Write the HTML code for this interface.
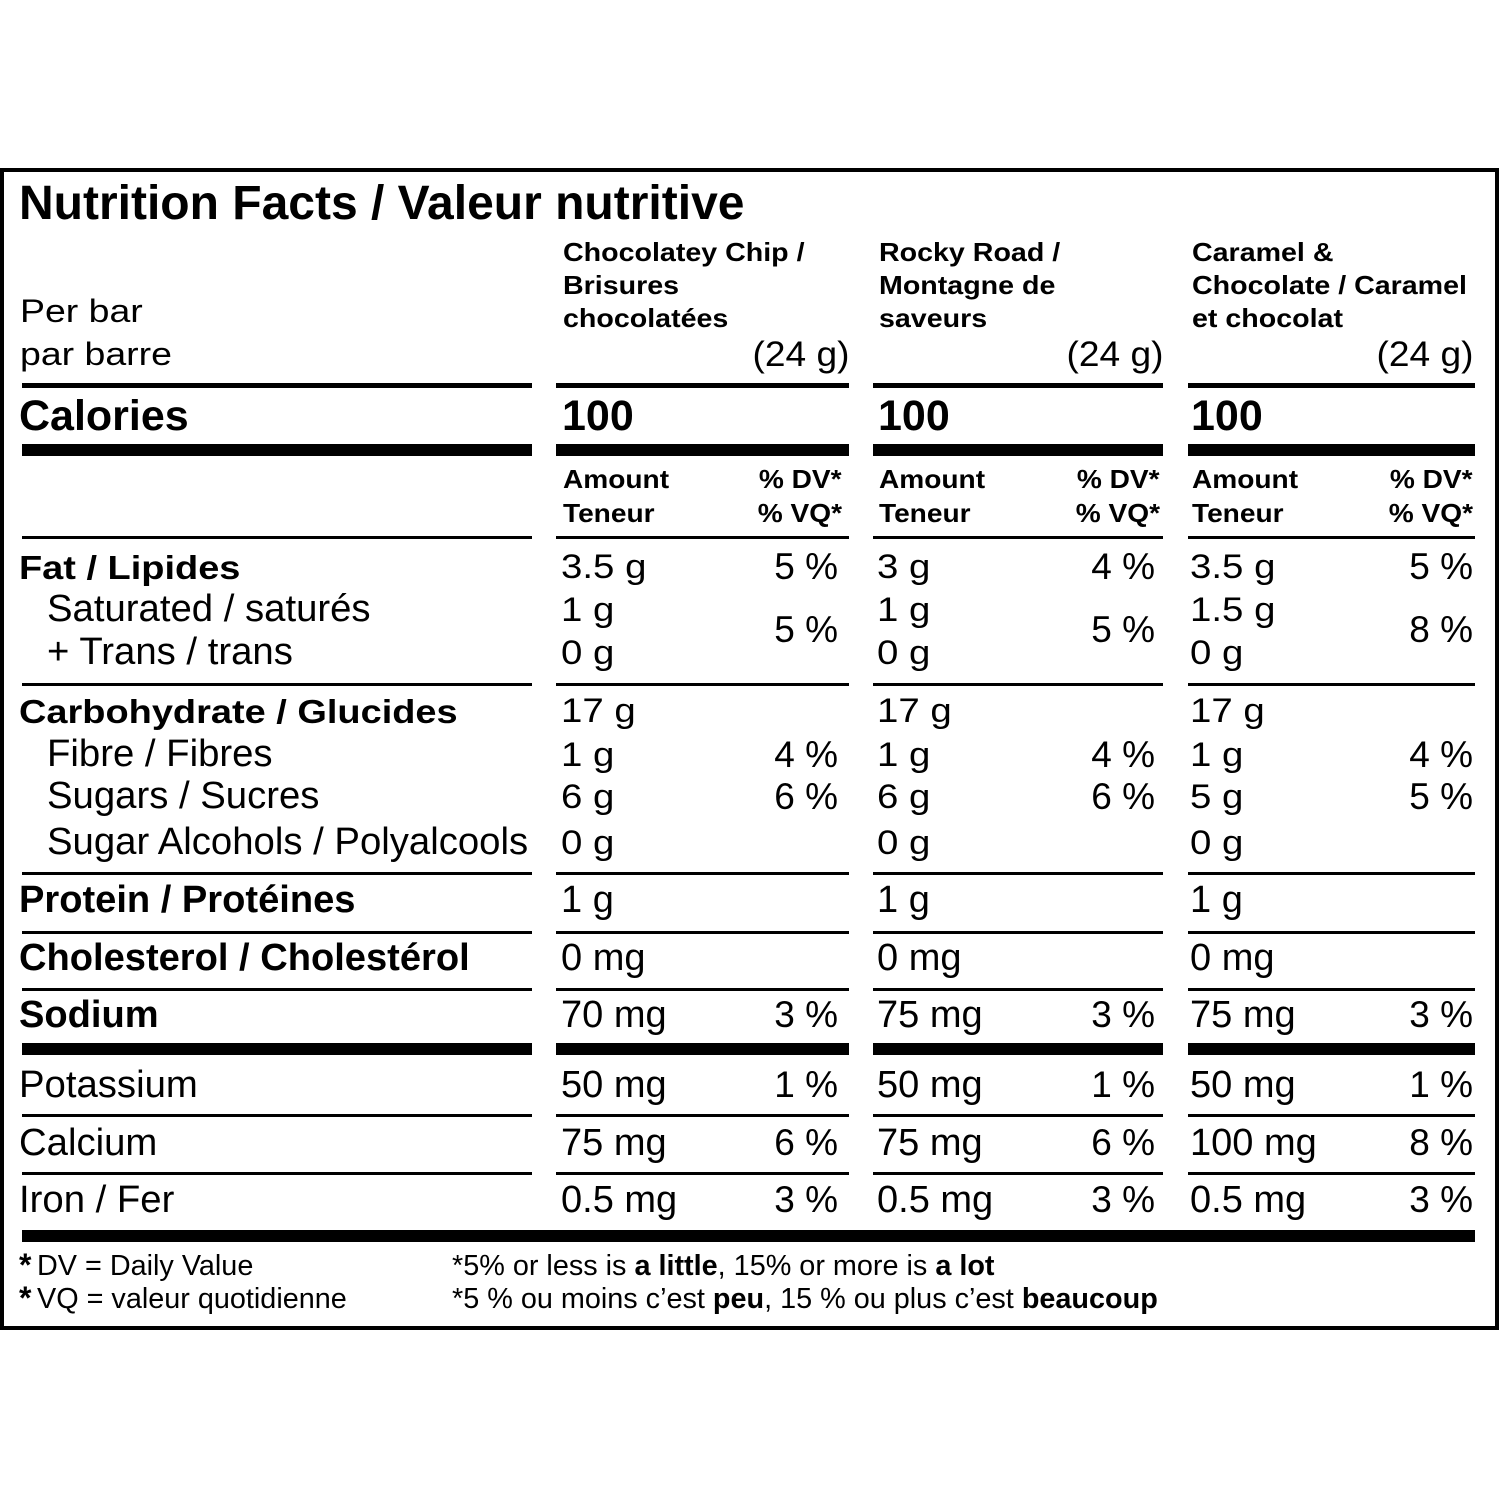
<!DOCTYPE html>
<html><head><meta charset="utf-8">
<style>
html,body{margin:0;padding:0;background:#fff;}
body{width:1500px;height:1500px;position:relative;overflow:hidden;font-family:"Liberation Sans",Arial,sans-serif;color:#000;}
.t{position:absolute;white-space:nowrap;line-height:1;}
.b{font-weight:bold;}
.l{position:absolute;background:#000;}
.sl{transform-origin:0 0;}
.sr{transform-origin:100% 0;}
</style></head>
<body>
<!-- outer border -->
<div style="position:absolute;left:0;top:168px;width:1491px;height:1154px;border:4px solid #000;"></div>

<!-- title -->
<div class="t b" style="left:19px;top:180px;font-size:48px;">Nutrition Facts / Valeur nutritive</div>

<!-- per bar -->
<div class="t sl" style="left:20px;top:295px;font-size:32px;transform:scaleX(1.17);">Per bar</div>
<div class="t sl" style="left:20px;top:338px;font-size:32px;transform:scaleX(1.17);">par barre</div>

<!-- column headers -->
<div class="t b sl" style="left:563px;top:239px;font-size:26px;transform:scaleX(1.1);">Chocolatey Chip /</div>
<div class="t b sl" style="left:563px;top:272px;font-size:26px;transform:scaleX(1.1);">Brisures</div>
<div class="t b sl" style="left:563px;top:305px;font-size:26px;transform:scaleX(1.1);">chocolatées</div>

<div class="t b sl" style="left:879px;top:239px;font-size:26px;transform:scaleX(1.1);">Rocky Road /</div>
<div class="t b sl" style="left:879px;top:272px;font-size:26px;transform:scaleX(1.1);">Montagne de</div>
<div class="t b sl" style="left:879px;top:305px;font-size:26px;transform:scaleX(1.1);">saveurs</div>

<div class="t b sl" style="left:1192px;top:239px;font-size:26px;transform:scaleX(1.1);">Caramel &amp;</div>
<div class="t b sl" style="left:1192px;top:272px;font-size:26px;transform:scaleX(1.1);">Chocolate / Caramel</div>
<div class="t b sl" style="left:1192px;top:305px;font-size:26px;transform:scaleX(1.1);">et chocolat</div>

<div class="t sr" style="right:651px;top:337px;font-size:35px;transform:scaleX(1.06);">(24 g)</div>
<div class="t sr" style="right:337px;top:337px;font-size:35px;transform:scaleX(1.06);">(24 g)</div>
<div class="t sr" style="right:27px;top:337px;font-size:35px;transform:scaleX(1.06);">(24 g)</div>

<!-- lines -->
<div class="l" style="left:22px;top:383px;width:510px;height:5px;"></div>
<div class="l" style="left:556px;top:383px;width:293px;height:5px;"></div>
<div class="l" style="left:873px;top:383px;width:290px;height:5px;"></div>
<div class="l" style="left:1188px;top:383px;width:287px;height:5px;"></div>

<div class="l" style="left:22px;top:444px;width:510px;height:12px;"></div>
<div class="l" style="left:556px;top:444px;width:293px;height:12px;"></div>
<div class="l" style="left:873px;top:444px;width:290px;height:12px;"></div>
<div class="l" style="left:1188px;top:444px;width:287px;height:12px;"></div>

<div class="l" style="left:22px;top:536px;width:510px;height:2.5px;"></div>
<div class="l" style="left:556px;top:536px;width:293px;height:2.5px;"></div>
<div class="l" style="left:873px;top:536px;width:290px;height:2.5px;"></div>
<div class="l" style="left:1188px;top:536px;width:287px;height:2.5px;"></div>

<div class="l" style="left:22px;top:683px;width:510px;height:2.5px;"></div>
<div class="l" style="left:556px;top:683px;width:293px;height:2.5px;"></div>
<div class="l" style="left:873px;top:683px;width:290px;height:2.5px;"></div>
<div class="l" style="left:1188px;top:683px;width:287px;height:2.5px;"></div>

<div class="l" style="left:22px;top:872px;width:510px;height:2.5px;"></div>
<div class="l" style="left:556px;top:872px;width:293px;height:2.5px;"></div>
<div class="l" style="left:873px;top:872px;width:290px;height:2.5px;"></div>
<div class="l" style="left:1188px;top:872px;width:287px;height:2.5px;"></div>

<div class="l" style="left:22px;top:931px;width:510px;height:2.5px;"></div>
<div class="l" style="left:556px;top:931px;width:293px;height:2.5px;"></div>
<div class="l" style="left:873px;top:931px;width:290px;height:2.5px;"></div>
<div class="l" style="left:1188px;top:931px;width:287px;height:2.5px;"></div>

<div class="l" style="left:22px;top:988px;width:510px;height:2.5px;"></div>
<div class="l" style="left:556px;top:988px;width:293px;height:2.5px;"></div>
<div class="l" style="left:873px;top:988px;width:290px;height:2.5px;"></div>
<div class="l" style="left:1188px;top:988px;width:287px;height:2.5px;"></div>

<div class="l" style="left:22px;top:1043px;width:510px;height:12px;"></div>
<div class="l" style="left:556px;top:1043px;width:293px;height:12px;"></div>
<div class="l" style="left:873px;top:1043px;width:290px;height:12px;"></div>
<div class="l" style="left:1188px;top:1043px;width:287px;height:12px;"></div>

<div class="l" style="left:22px;top:1114px;width:510px;height:2.5px;"></div>
<div class="l" style="left:556px;top:1114px;width:293px;height:2.5px;"></div>
<div class="l" style="left:873px;top:1114px;width:290px;height:2.5px;"></div>
<div class="l" style="left:1188px;top:1114px;width:287px;height:2.5px;"></div>

<div class="l" style="left:22px;top:1172px;width:510px;height:2.5px;"></div>
<div class="l" style="left:556px;top:1172px;width:293px;height:2.5px;"></div>
<div class="l" style="left:873px;top:1172px;width:290px;height:2.5px;"></div>
<div class="l" style="left:1188px;top:1172px;width:287px;height:2.5px;"></div>

<div class="l" style="left:22px;top:1230px;width:1453px;height:12px;"></div>

<!-- calories -->
<div class="t b" style="left:19px;top:395px;font-size:43px;">Calories</div>
<div class="t b" style="left:562px;top:395px;font-size:43px;">100</div>
<div class="t b" style="left:878px;top:395px;font-size:43px;">100</div>
<div class="t b" style="left:1191px;top:395px;font-size:43px;">100</div>

<!-- amount headers -->
<div class="t b sl" style="left:563px;top:466px;font-size:26px;transform:scaleX(1.08);">Amount</div>
<div class="t b sl" style="left:563px;top:500px;font-size:26px;transform:scaleX(1.08);">Teneur</div>
<div class="t b sr" style="right:658px;top:466px;font-size:26px;transform:scaleX(1.08);">% DV*</div>
<div class="t b sr" style="right:658px;top:500px;font-size:26px;transform:scaleX(1.08);">% VQ*</div>

<div class="t b sl" style="left:879px;top:466px;font-size:26px;transform:scaleX(1.08);">Amount</div>
<div class="t b sl" style="left:879px;top:500px;font-size:26px;transform:scaleX(1.08);">Teneur</div>
<div class="t b sr" style="right:340px;top:466px;font-size:26px;transform:scaleX(1.08);">% DV*</div>
<div class="t b sr" style="right:340px;top:500px;font-size:26px;transform:scaleX(1.08);">% VQ*</div>

<div class="t b sl" style="left:1192px;top:466px;font-size:26px;transform:scaleX(1.08);">Amount</div>
<div class="t b sl" style="left:1192px;top:500px;font-size:26px;transform:scaleX(1.08);">Teneur</div>
<div class="t b sr" style="right:27px;top:466px;font-size:26px;transform:scaleX(1.08);">% DV*</div>
<div class="t b sr" style="right:27px;top:500px;font-size:26px;transform:scaleX(1.08);">% VQ*</div>

<!-- fat / carb block labels -->
<div class="t b sl" style="left:19px;top:551px;font-size:33px;transform:scaleX(1.15);">Fat / Lipides</div>
<div class="t" style="left:47px;top:590px;font-size:38.3px;">Saturated / saturés</div>
<div class="t" style="left:47px;top:633px;font-size:38.3px;">+ Trans / trans</div>
<div class="t b sl" style="left:19px;top:695px;font-size:33px;transform:scaleX(1.15);">Carbohydrate / Glucides</div>
<div class="t" style="left:47px;top:735px;font-size:38.3px;">Fibre / Fibres</div>
<div class="t" style="left:47px;top:777px;font-size:38.3px;">Sugars / Sucres</div>
<div class="t" style="left:47px;top:823px;font-size:38.3px;">Sugar Alcohols / Polyalcools</div>

<!-- col1 block amounts -->
<div class="t sl" style="left:561px;top:550px;font-size:34px;transform:scaleX(1.13);">3.5 g</div>
<div class="t sl" style="left:561px;top:593px;font-size:34px;transform:scaleX(1.13);">1 g</div>
<div class="t sl" style="left:561px;top:636px;font-size:34px;transform:scaleX(1.13);">0 g</div>
<div class="t sl" style="left:561px;top:694px;font-size:34px;transform:scaleX(1.13);">17 g</div>
<div class="t sl" style="left:561px;top:738px;font-size:34px;transform:scaleX(1.13);">1 g</div>
<div class="t sl" style="left:561px;top:780px;font-size:34px;transform:scaleX(1.13);">6 g</div>
<div class="t sl" style="left:561px;top:826px;font-size:34px;transform:scaleX(1.13);">0 g</div>
<div class="t" style="right:662px;top:548px;font-size:37px;">5 %</div>
<div class="t" style="right:662px;top:611px;font-size:37px;">5 %</div>
<div class="t" style="right:662px;top:736px;font-size:37px;">4 %</div>
<div class="t" style="right:662px;top:778px;font-size:37px;">6 %</div>

<!-- col2 block amounts -->
<div class="t sl" style="left:877px;top:550px;font-size:34px;transform:scaleX(1.13);">3 g</div>
<div class="t sl" style="left:877px;top:593px;font-size:34px;transform:scaleX(1.13);">1 g</div>
<div class="t sl" style="left:877px;top:636px;font-size:34px;transform:scaleX(1.13);">0 g</div>
<div class="t sl" style="left:877px;top:694px;font-size:34px;transform:scaleX(1.13);">17 g</div>
<div class="t sl" style="left:877px;top:738px;font-size:34px;transform:scaleX(1.13);">1 g</div>
<div class="t sl" style="left:877px;top:780px;font-size:34px;transform:scaleX(1.13);">6 g</div>
<div class="t sl" style="left:877px;top:826px;font-size:34px;transform:scaleX(1.13);">0 g</div>
<div class="t" style="right:345px;top:548px;font-size:37px;">4 %</div>
<div class="t" style="right:345px;top:611px;font-size:37px;">5 %</div>
<div class="t" style="right:345px;top:736px;font-size:37px;">4 %</div>
<div class="t" style="right:345px;top:778px;font-size:37px;">6 %</div>

<!-- col3 block amounts -->
<div class="t sl" style="left:1190px;top:550px;font-size:34px;transform:scaleX(1.13);">3.5 g</div>
<div class="t sl" style="left:1190px;top:593px;font-size:34px;transform:scaleX(1.13);">1.5 g</div>
<div class="t sl" style="left:1190px;top:636px;font-size:34px;transform:scaleX(1.13);">0 g</div>
<div class="t sl" style="left:1190px;top:694px;font-size:34px;transform:scaleX(1.13);">17 g</div>
<div class="t sl" style="left:1190px;top:738px;font-size:34px;transform:scaleX(1.13);">1 g</div>
<div class="t sl" style="left:1190px;top:780px;font-size:34px;transform:scaleX(1.13);">5 g</div>
<div class="t sl" style="left:1190px;top:826px;font-size:34px;transform:scaleX(1.13);">0 g</div>
<div class="t" style="right:27px;top:548px;font-size:37px;">5 %</div>
<div class="t" style="right:27px;top:611px;font-size:37px;">8 %</div>
<div class="t" style="right:27px;top:736px;font-size:37px;">4 %</div>
<div class="t" style="right:27px;top:778px;font-size:37px;">5 %</div>

<!-- lower rows labels -->
<div class="t b" style="left:19px;top:881px;font-size:38.1px;">Protein / Protéines</div>
<div class="t b" style="left:19px;top:939px;font-size:38.1px;">Cholesterol / Cholestérol</div>
<div class="t b" style="left:19px;top:996px;font-size:38.1px;">Sodium</div>
<div class="t" style="left:19px;top:1066px;font-size:38.3px;">Potassium</div>
<div class="t" style="left:19px;top:1124px;font-size:38.3px;">Calcium</div>
<div class="t" style="left:19px;top:1181px;font-size:38.3px;">Iron / Fer</div>

<!-- col1 lower -->
<div class="t" style="left:561px;top:881px;font-size:38px;">1 g</div>
<div class="t" style="left:561px;top:939px;font-size:38px;">0 mg</div>
<div class="t" style="left:561px;top:996px;font-size:38px;">70 mg</div>
<div class="t" style="left:561px;top:1066px;font-size:38px;">50 mg</div>
<div class="t" style="left:561px;top:1124px;font-size:38px;">75 mg</div>
<div class="t" style="left:561px;top:1181px;font-size:38px;">0.5 mg</div>
<div class="t" style="right:662px;top:996px;font-size:37px;">3 %</div>
<div class="t" style="right:662px;top:1066px;font-size:37px;">1 %</div>
<div class="t" style="right:662px;top:1124px;font-size:37px;">6 %</div>
<div class="t" style="right:662px;top:1181px;font-size:37px;">3 %</div>

<!-- col2 lower -->
<div class="t" style="left:877px;top:881px;font-size:38px;">1 g</div>
<div class="t" style="left:877px;top:939px;font-size:38px;">0 mg</div>
<div class="t" style="left:877px;top:996px;font-size:38px;">75 mg</div>
<div class="t" style="left:877px;top:1066px;font-size:38px;">50 mg</div>
<div class="t" style="left:877px;top:1124px;font-size:38px;">75 mg</div>
<div class="t" style="left:877px;top:1181px;font-size:38px;">0.5 mg</div>
<div class="t" style="right:345px;top:996px;font-size:37px;">3 %</div>
<div class="t" style="right:345px;top:1066px;font-size:37px;">1 %</div>
<div class="t" style="right:345px;top:1124px;font-size:37px;">6 %</div>
<div class="t" style="right:345px;top:1181px;font-size:37px;">3 %</div>

<!-- col3 lower -->
<div class="t" style="left:1190px;top:881px;font-size:38px;">1 g</div>
<div class="t" style="left:1190px;top:939px;font-size:38px;">0 mg</div>
<div class="t" style="left:1190px;top:996px;font-size:38px;">75 mg</div>
<div class="t" style="left:1190px;top:1066px;font-size:38px;">50 mg</div>
<div class="t" style="left:1190px;top:1124px;font-size:38px;">100 mg</div>
<div class="t" style="left:1190px;top:1181px;font-size:38px;">0.5 mg</div>
<div class="t" style="right:27px;top:996px;font-size:37px;">3 %</div>
<div class="t" style="right:27px;top:1066px;font-size:37px;">1 %</div>
<div class="t" style="right:27px;top:1124px;font-size:37px;">8 %</div>
<div class="t" style="right:27px;top:1181px;font-size:37px;">3 %</div>

<!-- footnotes -->
<div class="t b" style="left:19px;top:1249px;font-size:32px;">*</div>
<div class="t" style="left:37px;top:1252px;font-size:28.8px;">DV = Daily Value</div>
<div class="t b" style="left:19px;top:1282px;font-size:32px;">*</div>
<div class="t" style="left:37px;top:1285px;font-size:28.8px;">VQ = valeur quotidienne</div>

<div class="t" style="left:452px;top:1252px;font-size:28.8px;">*5% or less is <b>a little</b>, 15% or more is <b>a lot</b></div>
<div class="t" style="left:452px;top:1285px;font-size:28.8px;">*5 % ou moins c’est <b>peu</b>, 15 % ou plus c’est <b>beaucoup</b></div>
</body></html>
